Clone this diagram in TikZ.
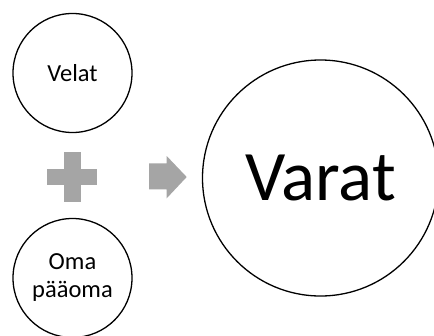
\documentclass[tikz,border=0pt]{standalone}
\usepackage{fontspec}
\setmainfont{Carlito}
\definecolor{symgray}{HTML}{A5A5A5}
\begin{document}
\begin{tikzpicture}[x=1pt,y=-1pt,
  circ/.style={draw=black,line width=1.3pt,circle,inner sep=0pt,align=center},
  small/.style={font=\fontsize{24.5}{28}\selectfont},
  big/.style={font=\fontsize{71}{84}\selectfont},
  sym/.style={fill=symgray,draw=none}]
\useasboundingbox (0,0) rectangle (434,335);
\clip (0,0) rectangle (434,335);
\node[circ,small,minimum size=119pt] (velat) at (72.5,73) {Velat};
\node[circ,small,minimum size=119pt] (oma) at (72.5,278) {Oma\\pääoma};
\node[circ,big,minimum size=236pt] (varat) at (320.5,178) {Varat};
% plus sign
\fill[sym] (47.3,168.7) rectangle (97.3,185.3);
\fill[sym] (64,151.7) rectangle (80.7,201.7);
% arrow
\fill[sym] (149,163.3) -- (166.7,163.3) -- (166.7,156) -- (186.7,177) -- (166.7,198.3) -- (166.7,189.3) -- (149,189.3) -- cycle;
\end{tikzpicture}
\end{document}
